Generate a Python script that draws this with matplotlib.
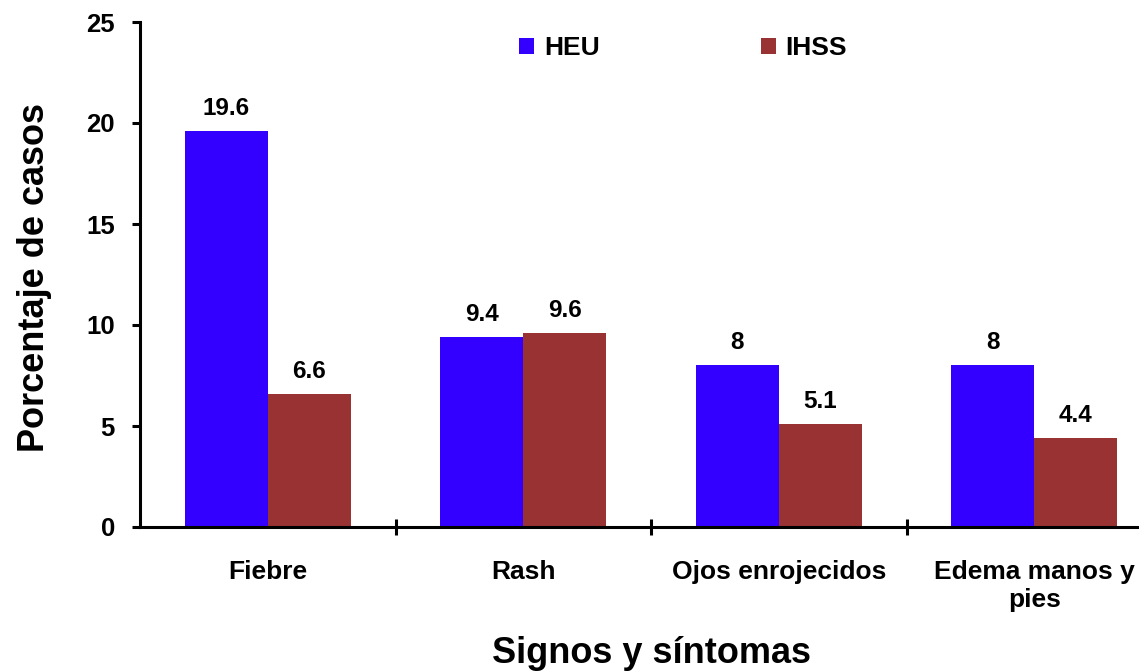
import matplotlib

matplotlib.use("Agg")

import matplotlib.pyplot as plt
from matplotlib.patches import Patch
import numpy as np

plt.rcParams["font.family"] = ["Liberation Sans", "DejaVu Sans"]
plt.rcParams["font.weight"] = "bold"

categories = ["Fiebre", "Rash", "Ojos enrojecidos", "Edema manos y\npies"]
series_names = ["HEU", "IHSS"]
heu = [19.6, 9.4, 8, 8]
ihss = [6.6, 9.6, 5.1, 4.4]
y_ticks = [0, 5, 10, 15, 20, 25]

COLORS = {"HEU": "#3300ff", "IHSS": "#993333"}

W, H = 1139, 672
fig = plt.figure(figsize=(W / 100, H / 100), dpi=100)
ax = fig.add_axes([140 / W, 1 - 527 / H, 1022 / W, 505 / H])

x = np.arange(len(categories))
width = 0.325
for offset, name, values in [(-width / 2, "HEU", heu), (width / 2, "IHSS", ihss)]:
    bars = ax.bar(x + offset, values, width, color=COLORS[name], linewidth=0, zorder=2)
    for rect, v in zip(bars, values):
        ax.annotate(
            f"{v:g}",
            (rect.get_x() + rect.get_width() / 2, rect.get_height()),
            xytext=(0, 11.5),
            textcoords="offset points",
            ha="center",
            va="baseline",
            fontsize=17.5,
            fontweight="bold",
        )

ax.set_xlim(-0.5, len(categories) - 0.5)
ax.set_ylim(0, 25)
ax.set_yticks(y_ticks)

# boundary ticks crossing the axis, labels centred under the groups
ax.set_xticks(np.arange(0.5, len(categories) - 0.5, 1.0))
ax.set_xticklabels([])
ax.set_xticks(x, minor=True)
ax.set_xticklabels(categories, minor=True, fontsize=19, fontweight="bold", linespacing=1.2)
ax.tick_params(axis="x", which="major", direction="inout", length=12, width=2.2)
ax.tick_params(axis="x", which="minor", length=0, pad=24)
ax.tick_params(axis="y", direction="out", length=6, width=2.2, labelsize=18.5, pad=12)

for side in ["top", "right"]:
    ax.spines[side].set_visible(False)
for side in ["left", "bottom"]:
    ax.spines[side].set_linewidth(2.2)

fig.text(35 / W, 1 - 277 / H, "Porcentaje de casos", rotation=90,
         ha="center", va="center", fontsize=26, fontweight="bold")
fig.text(652 / W, 1 - 663 / H, "Signos y síntomas",
         ha="center", va="baseline", fontsize=26, fontweight="bold")

handles = [Patch(facecolor=COLORS[n], edgecolor="none", label=n) for n in series_names]
fig.legend(
    handles=handles,
    loc="center",
    bbox_to_anchor=(683 / W, 1 - 48 / H),
    ncol=2,
    frameon=False,
    handlelength=0.57,
    handleheight=0.57,
    handletextpad=0.38,
    columnspacing=6.1,
    prop={"weight": "bold", "size": 19},
)

fig.savefig("out.png", dpi=100)
